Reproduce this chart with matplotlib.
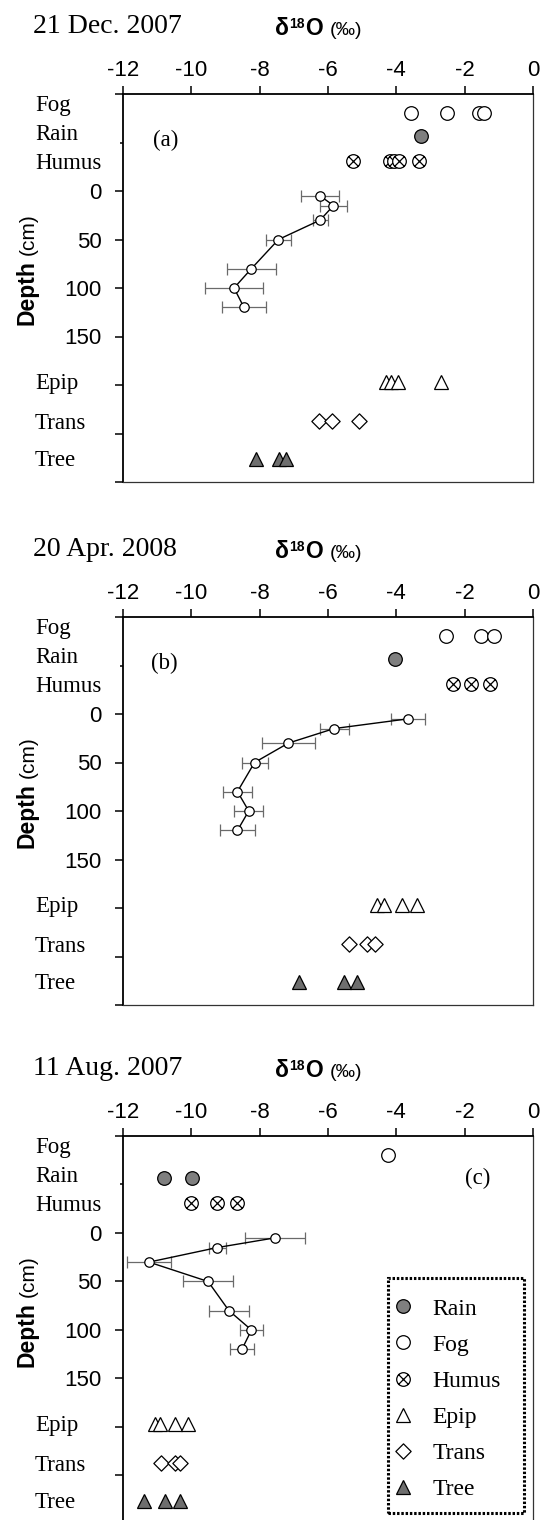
import matplotlib
matplotlib.use('Agg')
import matplotlib.pyplot as plt
import matplotlib.transforms as mtransforms
from matplotlib.path import Path
from matplotlib.patches import Rectangle

W, H = 548, 1520
plt.rcParams['axes.unicode_minus'] = False
plt.rcParams['font.family'] = ['Liberation Sans', 'DejaVu Sans']
SERIF = ['Liberation Serif', 'DejaVu Serif']
SANS = ['Liberation Sans', 'DejaVu Sans']

# ---------------- data ----------------
depths = [5, 15, 30, 50, 80, 100, 120]

a_profile = [-6.23, -5.84, -6.23, -7.45, -8.24, -8.75, -8.46]
a_err = [0.56, 0.40, 0.22, 0.37, 0.72, 0.85, 0.65]
a_fog = [-3.57, -2.51, -1.59, -1.43]
a_rain = [-3.27]
a_humus = [-5.28, -4.19, -4.06, -3.93, -3.35]
a_epip = [-4.31, -4.16, -3.94, -2.68]
a_trans = [-6.27, -5.87, -5.08]
a_tree = [-8.12, -7.42, -7.24]

b_profile = [-3.66, -5.82, -7.16, -8.15, -8.65, -8.32, -8.65]
b_err = [0.51, 0.42, 0.78, 0.38, 0.43, 0.42, 0.51]
b_fog = [-2.55, -1.52, -1.15]
b_rain = [-4.05]
b_humus = [-2.34, -1.81, -1.25]
b_epip = [-4.58, -4.35, -3.84, -3.40]
b_trans = [-5.40, -4.86, -4.63]
b_tree = [-6.86, -5.52, -5.14]

c_profile = [-7.55, -9.24, -11.24, -9.51, -8.90, -8.24, -8.52]
c_err = [0.88, 0.25, 0.64, 0.72, 0.59, 0.34, 0.34]
c_fog = [-4.23]
c_rain = [-10.81, -9.99]
c_humus = [-10.02, -9.24, -8.67]
c_epip = [-11.06, -10.91, -10.48, -10.10]
c_trans = [-10.89, -10.48, -10.33]
c_tree = [-11.40, -10.76, -10.33]

titles = ['21 Dec. 2007', '20 Apr. 2008', '11 Aug. 2007']
tags = ['(a)', '(b)', '(c)']
categories = ['Fog', 'Rain', 'Humus', 'Epip', 'Trans', 'Tree']
cat_rows = [-80, -57, -31, 197, 237, 276]
xticks = [-12, -10, -8, -6, -4, -2, 0]
yticks = [-100, 0, 50, 100, 150, 200, 250, 300]
ytick_labels = ['', '0', '50', '100', '150', '', '', '']
legend_order = ['Rain', 'Fog', 'Humus', 'Epip', 'Trans', 'Tree']

panel_data = [
    dict(profile=a_profile, err=a_err, Fog=a_fog, Rain=a_rain, Humus=a_humus,
         Epip=a_epip, Trans=a_trans, Tree=a_tree),
    dict(profile=b_profile, err=b_err, Fog=b_fog, Rain=b_rain, Humus=b_humus,
         Epip=b_epip, Trans=b_trans, Tree=b_tree),
    dict(profile=c_profile, err=c_err, Fog=c_fog, Rain=c_rain, Humus=c_humus,
         Epip=c_epip, Trans=c_trans, Tree=c_tree),
]

# ---------------- styles ----------------
d = 0.7071
humus_marker = Path.make_compound_path(
    Path.unit_circle(),
    Path([(-d, -d), (d, d), (-d, d), (d, -d)],
         [Path.MOVETO, Path.LINETO, Path.MOVETO, Path.LINETO]))
diamond_marker = Path([(0, 1), (1, 0), (0, -1), (-1, 0), (0, 1)],
                      [Path.MOVETO, Path.LINETO, Path.LINETO, Path.LINETO, Path.CLOSEPOLY])

styles = {
    'Fog': dict(marker='o', ms=9.8, mfc='white'),
    'Rain': dict(marker='o', ms=9.8, mfc='#7f7f7f'),
    'Humus': dict(marker=humus_marker, ms=9.8, mfc='white'),
    'Epip': dict(marker='^', ms=10.5, mfc='white'),
    'Trans': dict(marker=diamond_marker, ms=11, mfc='white'),
    'Tree': dict(marker='^', ms=10.5, mfc='#6e6e6e'),
}
label_rows = {'Fog': -91, 'Rain': -61, 'Humus': -31, 'Epip': 196, 'Trans': 237, 'Tree': 275}

fig = plt.figure(figsize=(W / 100, H / 100), dpi=100)
ident = mtransforms.IdentityTransform()
renderer = fig.canvas.get_renderer()

AL, AW, AH = 123, 410, 388
tops = [94, 617, 1136]
tag_pos = [(0.105, 0.88), (0.10, 0.88), (0.865, 0.89)]


def hpieces(x, ybase, pieces):
    for s, size, weight, rise, gap in pieces:
        t = fig.text(x, H - ybase + rise, s, transform=ident, ha='left', va='baseline',
                     fontsize=size, fontweight=weight, family=SANS)
        x += t.get_window_extent(renderer).width + gap


def vpieces(x, ystart, pieces):
    y = ystart
    for s, size, weight, gap in pieces:
        t = fig.text(x, H - y, s, transform=ident, ha='left', va='baseline',
                     rotation=90, rotation_mode='anchor',
                     fontsize=size, fontweight=weight, family=SANS)
        y -= t.get_window_extent(renderer).height + gap


axes = []
for i, pdata in enumerate(panel_data):
    top = tops[i]
    ax = fig.add_axes([AL / W, 1 - (top + AH) / H, AW / W, AH / H])
    axes.append(ax)
    ax.set_xlim(-12, 0)
    ax.set_ylim(300, -100)

    ax.errorbar(pdata['profile'], depths, xerr=pdata['err'], fmt='none',
                ecolor='#6a6a6a', elinewidth=0.9, capsize=4.5, capthick=0.9, zorder=2)
    ax.plot(pdata['profile'], depths, '-', color='black', lw=1.0, marker='o', ms=6.8,
            mfc='white', mec='black', mew=0.9, zorder=3)

    handles = {}
    for cat, row in zip(categories, cat_rows):
        vals = pdata[cat]
        st = styles[cat]
        ln, = ax.plot(vals, [row] * len(vals), ls='none', marker=st['marker'], ms=st['ms'],
                      mfc=st['mfc'], mec='black', mew=0.9, zorder=4, label=cat)
        handles[cat] = ln
        ax.text(35, label_rows[cat], cat,
                transform=mtransforms.blended_transform_factory(ident, ax.transData),
                ha='left', va='center_baseline', fontsize=16.5, family=SERIF)

    # axes styling
    ax.xaxis.tick_top()
    ax.set_xticks(xticks)
    ax.set_xticklabels([str(v) for v in xticks])
    ax.set_yticks(yticks)
    ax.set_yticklabels(ytick_labels)
    ax.set_yticks([-50], minor=True)
    ax.tick_params(axis='x', which='major', direction='out', length=5.8, width=1.1,
                   pad=3.5, labelsize=16, top=True, bottom=False)
    ax.tick_params(axis='y', which='major', direction='out', length=5.8, width=1.1,
                   pad=9.5, labelsize=16, left=True, right=False)
    ax.tick_params(axis='y', which='minor', direction='out', length=2.5, width=1.1,
                   left=True, right=False)
    for sp in ['left', 'top']:
        ax.spines[sp].set_linewidth(1.3)
        ax.spines[sp].set_color('black')
    for sp in ['right', 'bottom']:
        ax.spines[sp].set_linewidth(0.9)
        ax.spines[sp].set_color('#333333')

    ax.text(tag_pos[i][0], tag_pos[i][1], tags[i], transform=ax.transAxes,
            ha='center', va='center', fontsize=16.5, family=SERIF)

    # titles and axis labels
    fig.text(33, H - (top - 61), titles[i], transform=ident, ha='left', va='baseline',
             fontsize=20, family=SERIF)
    hpieces(275, top - 59, [('δ', 16.5, 'bold', 0, 0), ('18', 10, 'bold', 7, 0.5),
                            ('O', 16.5, 'bold', 0, 7), ('(‰)', 14, 'normal', 0, 0)])
    vpieces(33.5, top + 231, [('Depth', 16.5, 'bold', 5), ('(cm)', 15, 'normal', 0)])

    if i == 2:
        leg = ax.legend([handles[c] for c in legend_order], legend_order,
                        loc='upper left', bbox_to_anchor=(397, H - 1298),
                        bbox_transform=ident, borderaxespad=0, borderpad=0,
                        prop={'family': SERIF, 'size': 17}, handlelength=0.5,
                        handletextpad=1.0, labelspacing=0.62,
                        markerscale=1.0, frameon=False)
        fig.canvas.draw()
        bb = leg.get_window_extent(renderer)
        pad_l, pad_r, pad_t, pad_b = 9, 23, 20, 13
        rect = Rectangle((bb.x0 - pad_l, bb.y0 - pad_b),
                         bb.width + pad_l + pad_r, bb.height + pad_t + pad_b,
                         transform=ident, fill=False, edgecolor='black', lw=2.2,
                         linestyle=(0, (0.8, 0.6)), zorder=10)
        fig.patches.append(rect)

fig.savefig('out.png', dpi=100)
